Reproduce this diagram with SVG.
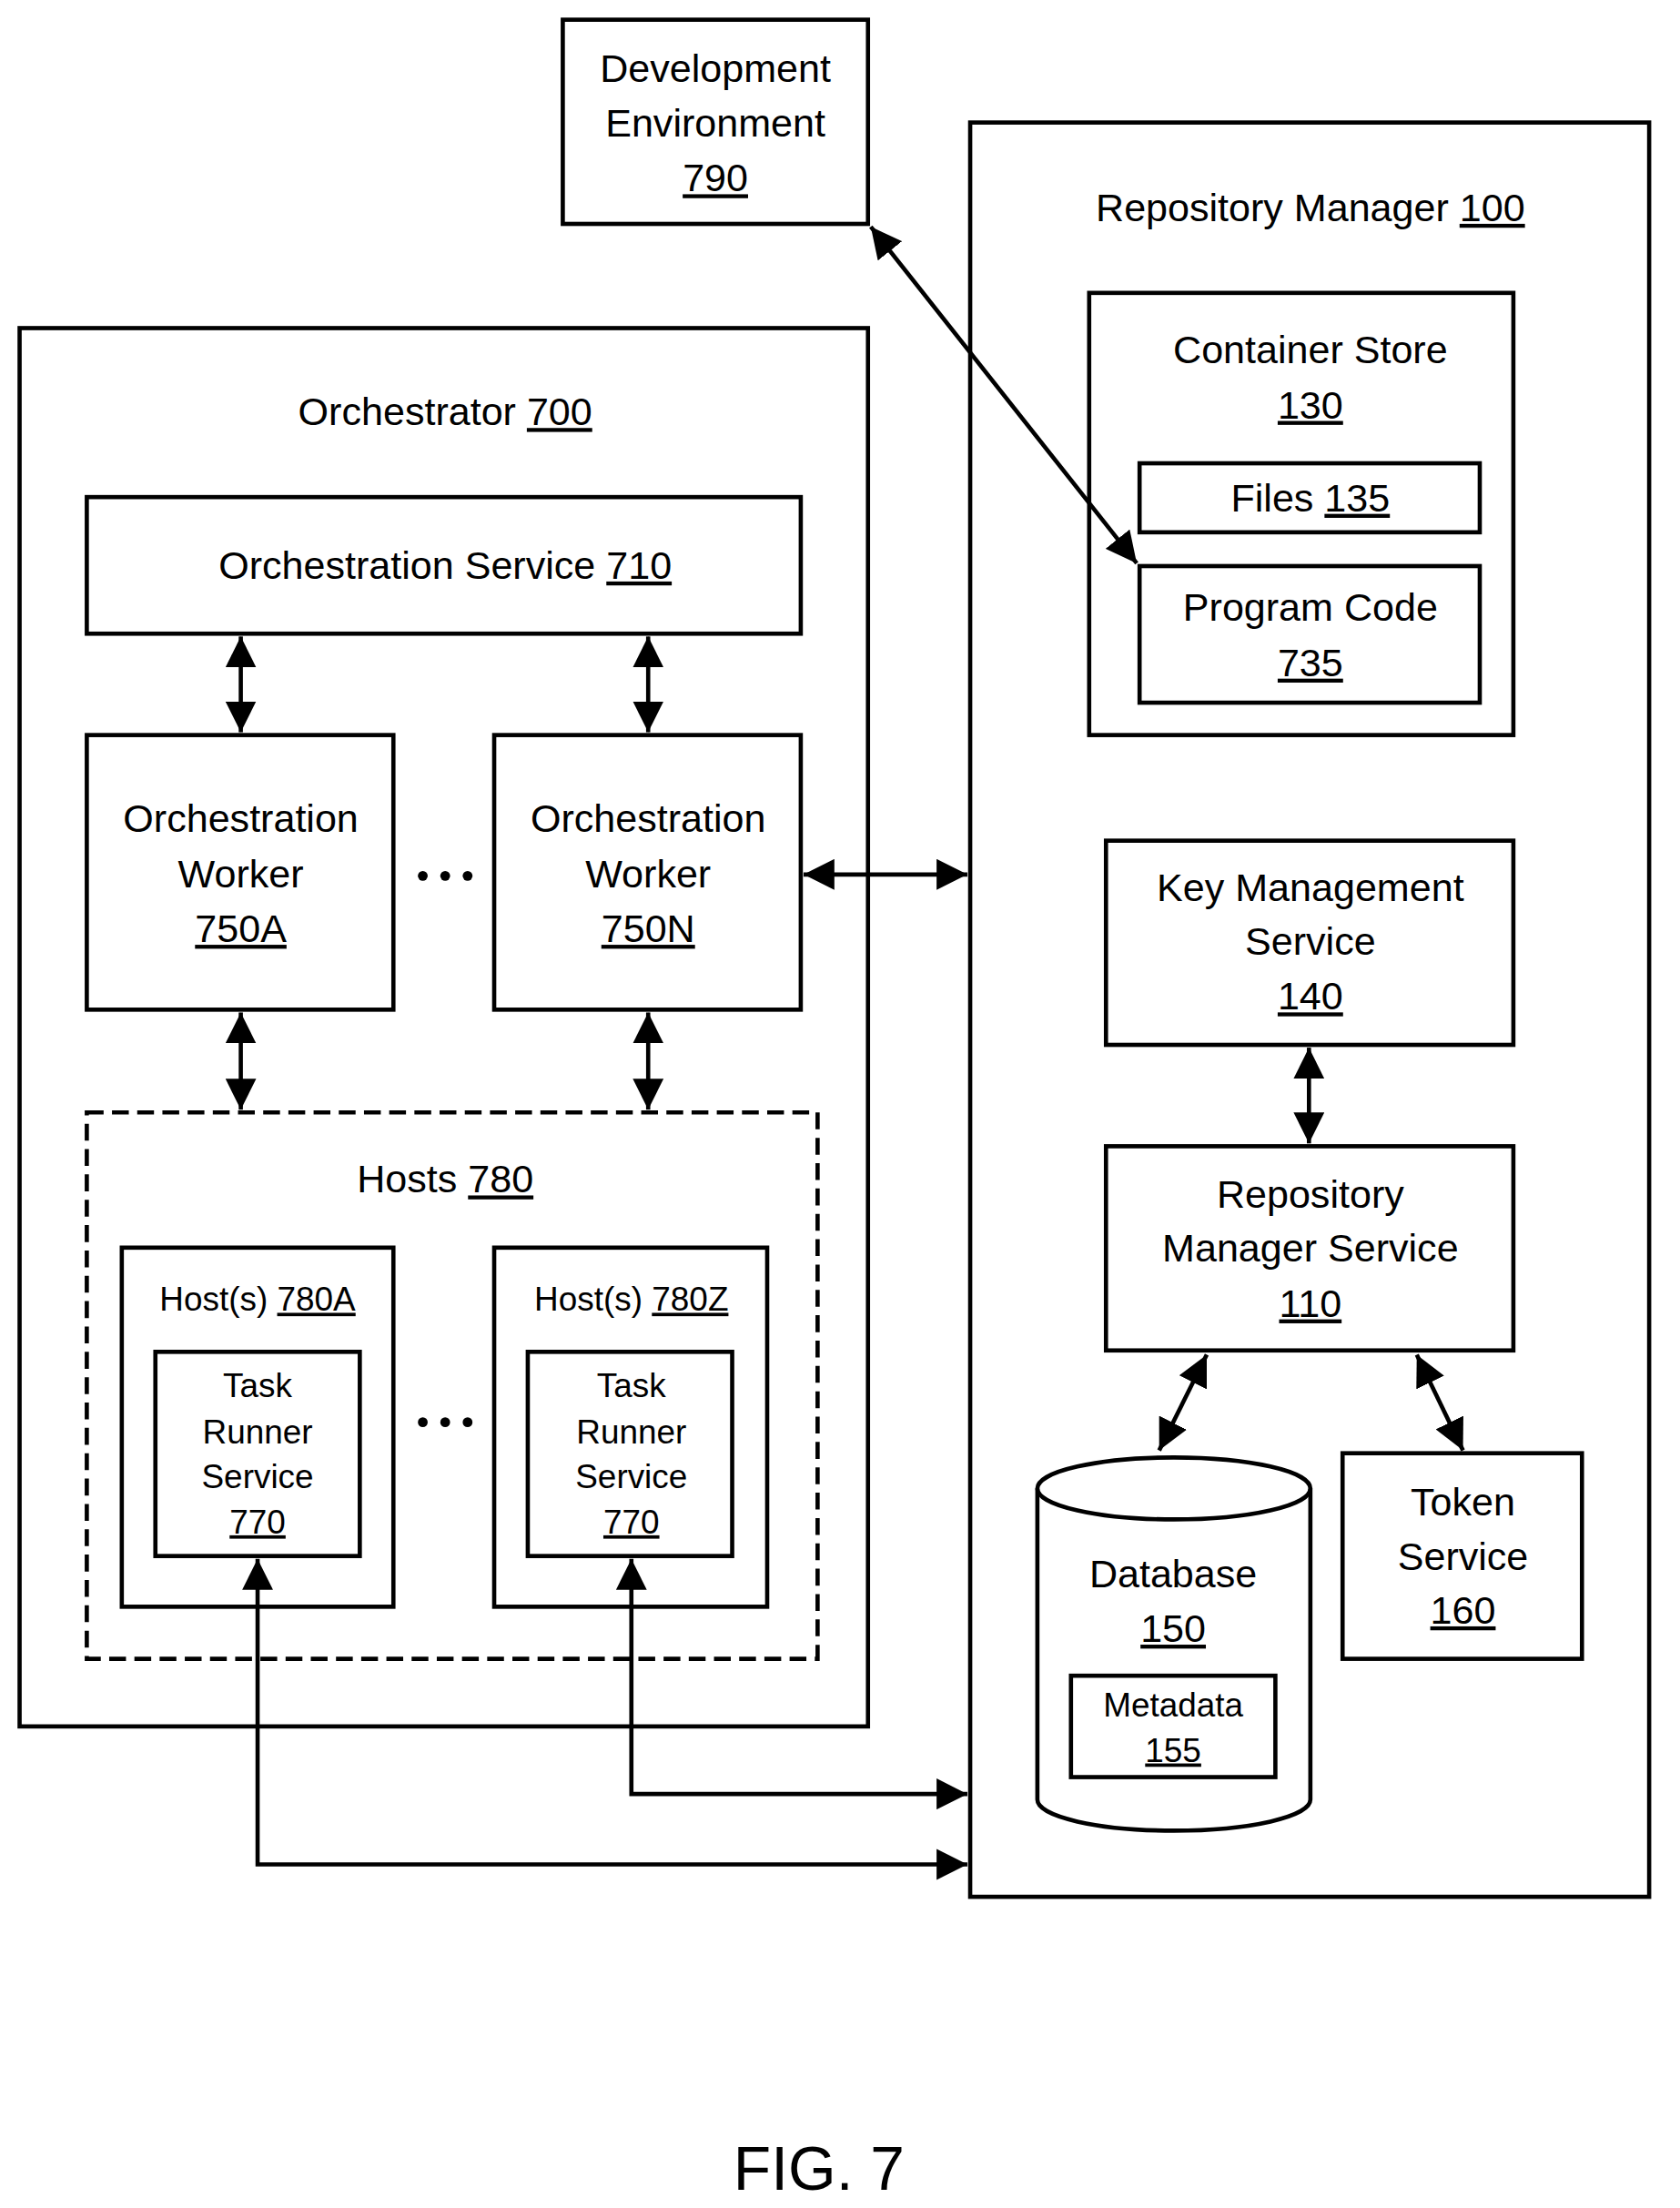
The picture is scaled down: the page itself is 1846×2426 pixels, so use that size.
<svg xmlns="http://www.w3.org/2000/svg" width="1846" height="2426" viewBox="0 0 1846 2426">
<defs>
<style>
rect,.b{fill:none;stroke:#000;stroke-width:3}
text{font-family:"Liberation Sans",Arial,sans-serif;font-size:28px;text-anchor:middle;fill:#000}
.s{font-size:24px}
.u{text-decoration:underline}
.c{fill:none;stroke:#000;stroke-width:3}
</style>
<marker id="a" viewBox="0 0 10 10" refX="10" refY="5" markerWidth="22" markerHeight="22" markerUnits="userSpaceOnUse" orient="auto-start-reverse"><path d="M0,0L10,5L0,10z" fill="#000"/></marker>
</defs>
<rect x="0" y="0" width="1846" height="2426" style="fill:#fff;stroke:none"/>
<g transform="scale(1.5383,1.5472)">
<g id="dev"><rect x="402" y="14" width="218" height="145"/><text x="511" y="58">Development</text><text x="511" y="97">Environment</text><text x="511" y="136" class="u">790</text></g>
<g id="rm"><rect x="693" y="87" width="485" height="1260"/><text x="936" y="157">Repository Manager <tspan class="u">100</tspan></text></g>
<g id="cs"><rect x="778" y="208" width="303" height="314"/><text x="936" y="258">Container Store</text><text x="936" y="297" class="u">130</text></g>
<g id="files"><rect x="814" y="329" width="243" height="49"/><text x="936" y="363">Files <tspan class="u">135</tspan></text></g>
<g id="pc"><rect x="814" y="402" width="243" height="97"/><text x="936" y="441">Program Code</text><text x="936" y="480" class="u">735</text></g>
<g id="kms"><rect x="790" y="597" width="291" height="145"/><text x="936" y="640">Key Management</text><text x="936" y="678">Service</text><text x="936" y="717" class="u">140</text></g>
<g id="rms"><rect x="790" y="814" width="291" height="145"/><text x="936" y="858">Repository</text><text x="936" y="896">Manager Service</text><text x="936" y="935" class="u">110</text></g>
<g id="db"><path class="b" d="M741,1057 A97.5,22 0 0 1 936,1057 V1278 A97.5,22 0 0 1 741,1278 Z"/><path class="b" d="M741,1057 A97.5,22 0 0 0 936,1057"/><text x="838" y="1127">Database</text><text x="838" y="1166" class="u">150</text></g>
<g id="meta"><rect x="765" y="1190" width="146" height="72"/><text x="838" y="1219" class="s">Metadata</text><text x="838" y="1251" class="s u">155</text></g>
<g id="token"><rect x="959" y="1032" width="171" height="146"/><text x="1045" y="1076">Token</text><text x="1045" y="1115">Service</text><text x="1045" y="1153" class="u">160</text></g>
<g id="orch"><rect x="14" y="233" width="606" height="993"/><text x="318" y="302">Orchestrator <tspan class="u">700</tspan></text></g>
<g id="os"><rect x="62" y="353" width="510" height="97"/><text x="318" y="411">Orchestration Service <tspan class="u">710</tspan></text></g>
<g id="wa"><rect x="62" y="522" width="219" height="195"/><text x="172" y="591">Orchestration</text><text x="172" y="630">Worker</text><text x="172" y="669" class="u">750A</text></g>
<g id="wn"><rect x="353" y="522" width="219" height="195"/><text x="463" y="591">Orchestration</text><text x="463" y="630">Worker</text><text x="463" y="669" class="u">750N</text></g>
<g id="dots1"><circle cx="302" cy="622" r="3.5"/><circle cx="318" cy="622" r="3.5"/><circle cx="334" cy="622" r="3.5"/></g>
<g id="hosts"><rect x="62" y="790" width="522" height="388" stroke-dasharray="12,6"/><text x="318" y="847">Hosts <tspan class="u">780</tspan></text></g>
<g id="ha"><rect x="87" y="886" width="194" height="255"/><text x="184" y="931" class="s">Host(s) <tspan class="u">780A</tspan></text></g>
<g id="ta"><rect x="111" y="960" width="146" height="145"/><text x="184" y="992" class="s">Task</text><text x="184" y="1025" class="s">Runner</text><text x="184" y="1057" class="s">Service</text><text x="184" y="1089" class="s u">770</text></g>
<g id="hz"><rect x="353" y="886" width="195" height="255"/><text x="451" y="931" class="s">Host(s) <tspan class="u">780Z</tspan></text></g>
<g id="tz"><rect x="377" y="960" width="146" height="145"/><text x="451" y="992" class="s">Task</text><text x="451" y="1025" class="s">Runner</text><text x="451" y="1057" class="s">Service</text><text x="451" y="1089" class="s u">770</text></g>
<g id="dots2"><circle cx="302" cy="1010" r="3.5"/><circle cx="318" cy="1010" r="3.5"/><circle cx="334" cy="1010" r="3.5"/></g>
<g id="connectors">
<path class="c" d="M172,452V520" marker-start="url(#a)" marker-end="url(#a)"/>
<path class="c" d="M463,452V520" marker-start="url(#a)" marker-end="url(#a)"/>
<path class="c" d="M172,719V788" marker-start="url(#a)" marker-end="url(#a)"/>
<path class="c" d="M463,719V788" marker-start="url(#a)" marker-end="url(#a)"/>
<path class="c" d="M574,621H691" marker-start="url(#a)" marker-end="url(#a)"/>
<path class="c" d="M622,161L812,400" marker-start="url(#a)" marker-end="url(#a)"/>
<path class="c" d="M935,744V812" marker-start="url(#a)" marker-end="url(#a)"/>
<path class="c" d="M862,962L828,1030" marker-start="url(#a)" marker-end="url(#a)"/>
<path class="c" d="M1012,962L1045,1030" marker-start="url(#a)" marker-end="url(#a)"/>
<path class="c" d="M184,1107V1324H691" marker-start="url(#a)" marker-end="url(#a)"/>
<path class="c" d="M451,1107V1274H691" marker-start="url(#a)" marker-end="url(#a)"/>
</g>
<text x="585" y="1555" style="font-size:44px">FIG. 7</text>
</g>
</svg>
